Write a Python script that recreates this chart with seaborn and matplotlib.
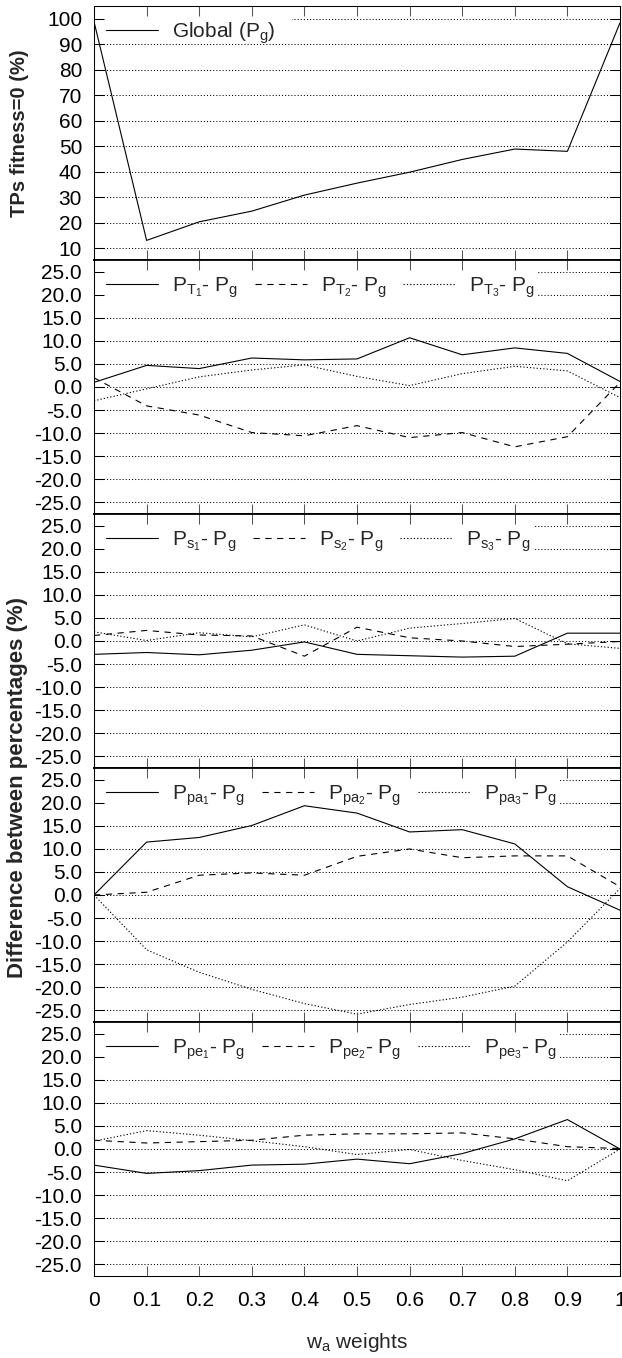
import matplotlib
matplotlib.use("Agg")
import matplotlib.pyplot as plt
from matplotlib.patches import Rectangle
import numpy as np
import pandas as pd
import seaborn as sns

# ---------------- data ----------------
weights = [0.0, 0.1, 0.2, 0.3, 0.4, 0.5, 0.6, 0.7, 0.8, 0.9, 1.0]
xtick_labels = ["0", "0.1", "0.2", "0.3", "0.4", "0.5", "0.6", "0.7", "0.8", "0.9", "1"]

global_pg = [99.0, 13.0, 20.3, 24.5, 30.8, 35.5, 39.8, 44.8, 48.9, 48.0, 98.5]

pt1 = [1.0, 4.7, 4.0, 6.3, 5.9, 6.1, 10.7, 7.0, 8.5, 7.3, 1.2]
pt2 = [2.0, -4.1, -6.1, -9.9, -10.6, -8.4, -11.0, -9.9, -13.0, -10.8, 1.0]
pt3 = [-3.0, -0.4, 2.2, 3.7, 4.8, 2.3, 0.3, 2.9, 4.5, 3.5, -2.3]

ps1 = [-2.9, -2.5, -3.0, -2.0, -0.2, -2.9, -3.2, -3.5, -3.3, 1.7, 1.7]
ps2 = [1.2, 2.3, 1.3, 1.1, -3.3, 3.0, 0.7, 0.0, -1.2, -0.7, -0.1]
ps3 = [2.0, 0.1, 1.8, 0.9, 3.5, 0.0, 2.8, 3.8, 4.9, -0.6, -1.6]

ppa1 = [0.0, 11.5, 12.5, 15.1, 19.4, 17.8, 13.7, 14.2, 11.1, 1.8, -3.3]
ppa2 = [0.0, 0.6, 4.3, 4.8, 4.3, 8.4, 10.0, 8.1, 8.5, 8.5, 1.8]
ppa3 = [0.0, -11.9, -16.8, -20.5, -23.6, -25.9, -23.8, -22.2, -19.8, -10.2, 1.4]

ppe1 = [-3.5, -5.3, -4.7, -3.5, -3.3, -2.2, -3.2, -1.0, 2.2, 6.4, 0.0]
ppe2 = [1.9, 1.3, 1.6, 1.9, 3.0, 3.3, 3.3, 3.5, 2.2, 0.5, 0.1]
ppe3 = [1.7, 4.0, 3.0, 1.8, 0.5, -1.2, -0.1, -2.5, -4.5, -6.9, 0.0]

top_yticks = [10, 20, 30, 40, 50, 60, 70, 80, 90, 100]
diff_yticks = [-25, -20, -15, -10, -5, 0, 5, 10, 15, 20, 25]

panels = [
    ([global_pg], ["Global ($\\mathregular{P_g}$)"]),
    ([pt1, pt2, pt3], ["$\\mathregular{P_{T_1}}$- $\\mathregular{P_g}$",
                       "$\\mathregular{P_{T_2}}$- $\\mathregular{P_g}$",
                       "$\\mathregular{P_{T_3}}$- $\\mathregular{P_g}$"]),
    ([ps1, ps2, ps3], ["$\\mathregular{P_{s_1}}$- $\\mathregular{P_g}$",
                       "$\\mathregular{P_{s_2}}$- $\\mathregular{P_g}$",
                       "$\\mathregular{P_{s_3}}$- $\\mathregular{P_g}$"]),
    ([ppa1, ppa2, ppa3], ["$\\mathregular{P_{pa_1}}$- $\\mathregular{P_g}$",
                          "$\\mathregular{P_{pa_2}}$- $\\mathregular{P_g}$",
                          "$\\mathregular{P_{pa_3}}$- $\\mathregular{P_g}$"]),
    ([ppe1, ppe2, ppe3], ["$\\mathregular{P_{pe_1}}$- $\\mathregular{P_g}$",
                          "$\\mathregular{P_{pe_2}}$- $\\mathregular{P_g}$",
                          "$\\mathregular{P_{pe_3}}$- $\\mathregular{P_g}$"]),
]

# ---------------- style ----------------
sns.set_theme(style="white")
plt.rcParams["font.family"] = ["Liberation Sans", "DejaVu Sans"]
plt.rcParams["mathtext.fontset"] = "custom"
plt.rcParams["mathtext.rm"] = "Liberation Sans"
plt.rcParams["mathtext.it"] = "Liberation Sans:italic"
plt.rcParams["mathtext.bf"] = "Liberation Sans:bold"
plt.rcParams["lines.scale_dashes"] = False

styles = ["-", (0, (4.5, 4.0)), (0, (0.9, 1.5))]
FS = 15

W, H = 622, 1358
fig = plt.figure(figsize=(W / 100, H / 100), dpi=100)
left = 94 / W
width = (620 - 94) / W
top_px, bot_px = 6, 1276
ph = (bot_px - top_px) / 5
ax_w_px = 620 - 94

legend_off = [14, 15, 15, 15, 15]      # px below axes top
cover_depth = [33, 47, 47, 47, 47]     # px of gridline masking below top
cover_right = [16, 3, 3, 3, 3]         # px of masking after the last label

axes_list, legends = [], []
for i, (series, labels) in enumerate(panels):
    y0 = 1 - (top_px + (i + 1) * ph) / H
    rect = [left, y0, width, ph / H]
    ax = fig.add_axes(rect)
    for s, lab, ls in zip(series, labels, styles):
        df = pd.DataFrame({"w": weights, "v": s})
        sns.lineplot(data=df, x="w", y="v", ax=ax, color="black", lw=0.8,
                     linestyle=ls, label=lab, zorder=3, legend=False)
    ax.set_xlim(0, 1)
    if i == 0:
        ax.set_ylim(5.3, 105.1)
        ax.set_yticks(top_yticks)
        ax.set_yticklabels([str(t) for t in top_yticks])
    else:
        ax.set_ylim(-27.6, 27.6)
        ax.set_yticks(diff_yticks)
        ax.set_yticklabels(["%.1f" % t for t in diff_yticks])
    ax.set_xticks(weights)
    ax.set_xticklabels(xtick_labels)
    ax.set_xlabel("")
    ax.set_ylabel("")
    ax.grid(axis="y", color="black", linestyle=(0, (0.75, 1.5)), lw=0.75)
    ax.grid(axis="x", visible=False)
    ax.set_axisbelow(True)
    ax.tick_params(axis="y", length=0, labelsize=FS, pad=8.6, colors="black")
    ax.tick_params(axis="x", length=0, labelsize=FS, pad=11,
                   labelbottom=(i == 4), colors="black")
    for sp in ax.spines.values():
        sp.set_visible(False)

    leg = ax.legend(loc="upper left",
                    bbox_to_anchor=(12 / ax_w_px, 1 - legend_off[i] / ph),
                    borderaxespad=0, ncol=3, fontsize=FS, frameon=False,
                    handlelength=2.5, handletextpad=0.67,
                    columnspacing=0.8, borderpad=0)
    leg.set_zorder(2)
    axes_list.append(ax)
    legends.append(leg)

    # overlay axes for ticks and frame (drawn above the legend mask)
    ov = fig.add_axes(rect, sharex=ax, sharey=ax)
    ov.patch.set_visible(False)
    ov.grid(False)
    ov.tick_params(axis="both", direction="in", length=7.2, width=0.75,
                   labelleft=False, labelbottom=False, left=True, right=True,
                   top=True, bottom=True)
    ov.tick_params(axis="x", color="#555555")
    ov.tick_params(axis="y", color="black")
    for name, sp in ov.spines.items():
        sp.set_visible(True)
        sp.set_color("black")
        sp.set_linewidth(0.75)
    if i > 0:
        ov.spines["top"].set_linewidth(1.3)
    if i < 4:
        ov.spines["bottom"].set_linewidth(1.3)

fig.text(20 / W, 1 - 133 / H, "TPs fitness=0 (%)", rotation=90, ha="center",
         va="center", fontsize=14.5, fontweight="bold")
fig.text(18 / W, 1 - 787 / H, "Difference between percentages (%)", rotation=90,
         ha="center", va="center", fontsize=16, fontweight="bold")
fig.text(357 / W, 1 - 1342 / H, "$\\mathregular{w_a}$ weights", ha="center",
         va="center", fontsize=FS)

# white key background that hides the grid behind the legend entries
fig.canvas.draw()
renderer = fig.canvas.get_renderer()
for i, (ax, leg) in enumerate(zip(axes_list, legends)):
    lb = leg.get_window_extent(renderer)
    abb = ax.get_window_extent(renderer)
    inv = ax.transAxes.inverted()
    (x0, y0d), (x1, y1d) = inv.transform([[abb.x0, abb.y1 - cover_depth[i]],
                                         [lb.x1 + cover_right[i], abb.y1]])
    ax.add_artist(Rectangle((x0, y0d), x1 - x0, y1d - y0d,
                            transform=ax.transAxes, facecolor="white",
                            edgecolor="none", zorder=1.5))

fig.savefig("out.png", dpi=100)
